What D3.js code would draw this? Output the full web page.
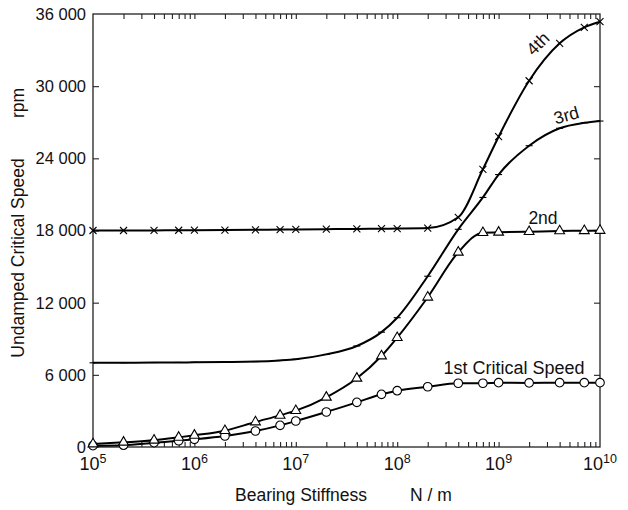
<!DOCTYPE html>
<html>
<head>
<meta charset="utf-8">
<script src="https://cdn.jsdelivr.net/npm/d3@7"></script>
<style>
  html, body { margin: 0; padding: 0; background: #fff; }
  svg { display: block; }
  text { font-family: "Liberation Sans", Arial, Helvetica, sans-serif; fill: #111; }
</style>
</head>
<body>
<svg id="chart" width="628" height="510"></svg>
<script>
// Bearing stiffness (N/m) at which each critical speed was computed
const stiffness = [1e5, 2e5, 4e5, 7e5, 1e6, 2e6, 4e6, 7e6, 1e7, 2e7, 4e7, 7e7,
                   1e8, 2e8, 4e8, 7e8, 1e9, 2e9, 4e9, 7e9, 1e10];

// Undamped critical speeds (rpm)
const speed1st = [110, 150, 360, 520, 640, 915, 1330, 1800, 2160, 2910, 3715, 4380,
                  4680, 5010, 5300, 5300, 5350, 5330, 5350, 5350, 5350];
const speed2nd = [250, 390, 560, 800, 970, 1355, 2080, 2630, 3020, 4130, 5710, 7565,
                  9090, 12450, 16190, 17820, 17850, 17900, 17960, 17980, 18000];
const speed3rd = [7000, 7010, 7020, 7030, 7040, 7060, 7100, 7200, 7300, 7700, 8400, 9550,
                  10750, 14200, 18100, 20750, 22650, 25050, 26500, 26950, 27100];
const speed4th = [18000, 18000, 18010, 18020, 18030, 18040, 18060, 18080, 18090, 18110, 18130, 18150,
                  18160, 18200, 19100, 23090, 25800, 30450, 33560, 34890, 35360];

const seriesNames = ["1st Critical Speed", "2nd", "3rd", "4th"];
const seriesMarkers = ["circle", "triangle", "dash", "cross"];

const xDecades = [1e5, 1e6, 1e7, 1e8, 1e9, 1e10];
const yTicks = [0, 6000, 12000, 18000, 24000, 30000, 36000];

const xTitle = "Bearing Stiffness";
const xUnit = "N / m";
const yTitle = "Undamped Critical Speed";
const yUnit = "rpm";

const margin = { left: 93, top: 14, right: 28, bottom: 63 };
const W = 628, H = 510;
const iw = W - margin.left - margin.right;
const ih = H - margin.top - margin.bottom;

const svg = d3.select("#chart");
const g = svg.append("g").attr("transform", `translate(${margin.left},${margin.top})`);

const x = d3.scaleLog().domain([1e5, 1e10]).range([0, iw]);
const y = d3.scaleLinear().domain([0, 36000]).range([ih, 0]);

// minor + major ticks on log axis: k * 10^n
const logTicks = [];
for (let e = 5; e < 10; e++) for (let k = 1; k <= 9; k++) logTicks.push(k * Math.pow(10, e));
logTicks.push(1e10);
const innerLogTicks = logTicks.filter(v => v > 1e5 && v < 1e10);

const tickLen = 5;
const frame = "#222";

// ticks on all four sides, pointing into the plot
const bottomAxis = d3.axisBottom(x).tickValues(innerLogTicks).tickSize(-tickLen).tickFormat("");
const topAxis = d3.axisTop(x).tickValues(innerLogTicks).tickSize(-tickLen).tickFormat("");
const leftAxis = d3.axisLeft(y).tickValues(yTicks.slice(1, -1)).tickSize(-6).tickFormat("");
const rightAxis = d3.axisRight(y).tickValues(yTicks.slice(1, -1)).tickSize(-6).tickFormat("");

function styleAxis(sel) {
  sel.select(".domain").remove();
  sel.selectAll("line").attr("stroke", frame).attr("stroke-width", 1.1);
}
g.append("g").attr("transform", `translate(0,${ih})`).call(bottomAxis).call(styleAxis);
g.append("g").call(topAxis).call(styleAxis);
g.append("g").call(leftAxis).call(styleAxis);
g.append("g").attr("transform", `translate(${iw},0)`).call(rightAxis).call(styleAxis);

// plot frame
g.append("rect").attr("x", 0).attr("y", 0).attr("width", iw).attr("height", ih)
  .attr("fill", "none").attr("stroke", frame).attr("stroke-width", 1.3);

// y tick labels with space thousands separator
const fmtY = v => v === 0 ? "0" : d3.format(",")(v).replace(/,/g, " ");
g.append("g").selectAll("text").data(yTicks).join("text")
  .attr("x", -7).attr("y", d => y(d)).attr("dy", "0.36em")
  .attr("text-anchor", "end").attr("font-size", 16.5)
  .text(fmtY);

// x decade labels: 10 with superscript exponent
const xl = g.append("g").selectAll("text").data(xDecades).join("text")
  .attr("x", d => x(d)).attr("y", ih + 23)
  .attr("text-anchor", "middle").attr("font-size", 18);
xl.append("tspan").text("10");
xl.append("tspan").attr("font-size", 12.5).attr("dy", -7.5).text(d => Math.round(Math.log10(d)));

// axis titles
svg.append("text").attr("x", 301).attr("y", 501).attr("text-anchor", "middle")
  .attr("font-size", 17.5).text(xTitle);
svg.append("text").attr("x", 431).attr("y", 501).attr("text-anchor", "middle")
  .attr("font-size", 17.5).text(xUnit);
svg.append("text").attr("transform", "translate(24,258) rotate(-90)")
  .attr("text-anchor", "middle").attr("font-size", 17.5).text(yTitle);
svg.append("text").attr("transform", "translate(24,103) rotate(-90)")
  .attr("text-anchor", "middle").attr("font-size", 17.5).text(yUnit);

// curves
const allSeries = [speed1st, speed2nd, speed3rd, speed4th].map((vals, i) => ({
  name: seriesNames[i],
  marker: seriesMarkers[i],
  points: stiffness.map((s, j) => ({ s, v: vals[j] }))
}));

const line = d3.line().x(d => x(d.s)).y(d => y(d.v)).curve(d3.curveMonotoneX);

const plot = g.append("g");
plot.selectAll("path.curve").data(allSeries).join("path")
  .attr("class", "curve")
  .attr("d", d => line(d.points))
  .attr("fill", "none").attr("stroke", "#000").attr("stroke-width", 2);

// markers
allSeries.forEach(sr => {
  const mg = plot.append("g");
  const pts = mg.selectAll("g").data(sr.points).join("g")
    .attr("transform", d => `translate(${x(d.s)},${y(d.v)})`);
  if (sr.marker === "circle") {
    pts.append("circle").attr("r", 4.3).attr("fill", "#fff").attr("stroke", "#000").attr("stroke-width", 1.1);
  } else if (sr.marker === "triangle") {
    pts.append("path").attr("d", d3.symbol(d3.symbolTriangle, 42)())
      .attr("fill", "#fff").attr("stroke", "#000").attr("stroke-width", 1.1);
  } else if (sr.marker === "dash") {
    pts.append("line").attr("x1", -3.5).attr("x2", 3.5).attr("y1", 0).attr("y2", 0)
      .attr("stroke", "#000").attr("stroke-width", 1.1);
  } else {
    pts.append("path").attr("d", "M-3.5,-3.5L3.5,3.5M-3.5,3.5L3.5,-3.5")
      .attr("fill", "none").attr("stroke", "#000").attr("stroke-width", 1.1);
  }
});

// curve labels
svg.append("text").attr("transform", "translate(542,48) rotate(-45)")
  .attr("text-anchor", "middle").attr("font-size", 17.5).text(seriesNames[3]);
svg.append("text").attr("transform", "translate(568,121) rotate(-16)")
  .attr("text-anchor", "middle").attr("font-size", 17.5).text(seriesNames[2]);
svg.append("text").attr("x", 543).attr("y", 224)
  .attr("text-anchor", "middle").attr("font-size", 17.5).text(seriesNames[1]);
svg.append("text").attr("x", 514).attr("y", 374)
  .attr("text-anchor", "middle").attr("font-size", 18).text(seriesNames[0]);
</script>
</body>
</html>
